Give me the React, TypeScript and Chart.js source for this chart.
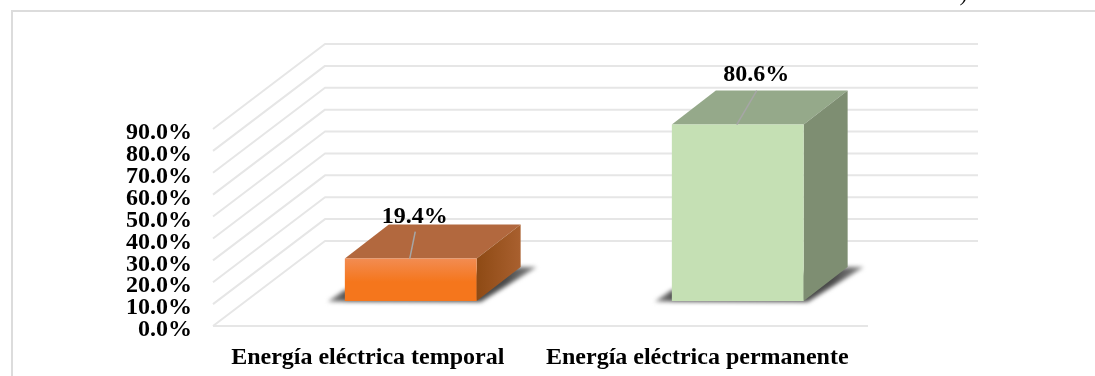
import React, { useEffect, useRef } from "react";
import { Chart, registerables } from "chart.js";

Chart.register(...registerables);

const categories = ["Energía eléctrica temporal", "Energía eléctrica permanente"];
const shares = [19.4, 80.6];
const axisMax = 90;
const axisStep = 10;

// Colours of each box: front gradient, top face, side gradient.
const frontTop = ["#f28c52", "#c5e0b4"];
const frontBottom = ["#f5761c", "#c5e0b4"];
const topFace = ["#b2683e", "#95a98a"];
const sideBack = ["#a9602f", "#7e8e72"];
const sideFront = ["#8e4a14", "#7e8e72"];

// Pseudo-3D projection of the chart box.
const WALL_DX = 112;
const WALL_DY = -85;
const FLOOR_RIGHT = 868;
const WALL_RIGHT = 978;
const FRONT_LEFT = 213;
const BOX_DX = 44;
const BOX_DY = -34;
const BAR_LIFT = -25;
const barShift = [43, 40.5];
const leaderDx = [5.5, 20];
const leaderDy = [-27, -34];
const labelDy = [-35.5, -43.5];

const SERIF = '"Liberation Serif", "Times New Roman", serif';
const TEXT_FONT = `bold 24px ${SERIF}`;

const poly = (ctx: CanvasRenderingContext2D, pts: number[][], fill: any) => {
  ctx.beginPath();
  pts.forEach(([x, y], i) => (i ? ctx.lineTo(x, y) : ctx.moveTo(x, y)));
  ctx.closePath();
  ctx.fillStyle = fill;
  ctx.fill();
};

const projection = {
  id: "projection",
  // Slide the bars from the axis plane into the middle of the floor.
  afterDatasetsUpdate(chart: any) {
    chart.getDatasetMeta(0).data.forEach((bar: any, i: number) => {
      bar.x += barShift[i];
      bar.y += BAR_LIFT;
      bar.base += BAR_LIFT;
    });
  },
  beforeDatasetsDraw(chart: any) {
    const { ctx, scales } = chart;
    const y = scales.y;

    // Frame around the plot.
    ctx.save();
    ctx.strokeStyle = "#dcdcdc";
    ctx.lineWidth = 2;
    ctx.beginPath();
    ctx.moveTo(12, 376);
    ctx.lineTo(12, 11);
    ctx.lineTo(1095, 11);
    ctx.stroke();

    // Wall and floor gridlines, one per axis tick.
    ctx.strokeStyle = "#e6e6e6";
    ctx.lineWidth = 2;
    ctx.lineJoin = "round";
    y.ticks.forEach((t: any) => {
      const py = y.getPixelForValue(t.value);
      ctx.beginPath();
      ctx.moveTo(FRONT_LEFT, py);
      ctx.lineTo(FRONT_LEFT + WALL_DX, py + WALL_DY);
      ctx.lineTo(WALL_RIGHT, py + WALL_DY);
      ctx.stroke();
    });
    const floorY = y.getPixelForValue(0);
    ctx.beginPath();
    ctx.moveTo(FRONT_LEFT, floorY);
    ctx.lineTo(FLOOR_RIGHT, floorY);
    ctx.stroke();

    chart.getDatasetMeta(0).data.forEach((bar: any, i: number) => {
      const half = bar.width / 2;
      const l = bar.x - half;
      const r = bar.x + half;
      const t = bar.y;
      const b = bar.base;

      // Soft cast shadow on the floor, fading away from the box.
      ctx.save();
      ctx.filter = "blur(2px)";
      const fade = ctx.createLinearGradient(l - 17, 0, r + BOX_DX + 16, 0);
      fade.addColorStop(0, "#8a8a8a");
      fade.addColorStop(0.1, "#4a4a4a");
      fade.addColorStop(0.85, "#4a4a4a");
      fade.addColorStop(1, "#8a8a8a");
      poly(
        ctx,
        [
          [l - 17, b + 0.5],
          [l, b - 11],
          [r + BOX_DX, b + BOX_DY],
          [r + BOX_DX + 16, b + BOX_DY],
          [r + 4, b + 1],
        ],
        fade
      );
      ctx.restore();

      // Top and side faces of the box.
      poly(
        ctx,
        [
          [l, t],
          [l + BOX_DX, t + BOX_DY],
          [r + BOX_DX, t + BOX_DY],
          [r, t],
        ],
        topFace[i]
      );
      const side = ctx.createLinearGradient(r, 0, r + BOX_DX, 0);
      side.addColorStop(0, sideFront[i]);
      side.addColorStop(1, sideBack[i]);
      poly(
        ctx,
        [
          [r, t],
          [r + BOX_DX, t + BOX_DY],
          [r + BOX_DX, b + BOX_DY],
          [r, b],
        ],
        i === 0 ? side : sideFront[i]
      );
    });
    ctx.restore();
  },
  afterDatasetsDraw(chart: any) {
    const { ctx } = chart;
    ctx.save();
    chart.getDatasetMeta(0).data.forEach((bar: any, i: number) => {
      // Leader from the box to its value label.
      ctx.strokeStyle = "#a6a6a6";
      ctx.lineWidth = 1.5;
      ctx.beginPath();
      ctx.moveTo(bar.x - 1, bar.y);
      ctx.lineTo(bar.x - 1 + leaderDx[i], bar.y + leaderDy[i]);
      ctx.stroke();

      ctx.fillStyle = "#000000";
      ctx.font = TEXT_FONT;
      ctx.textAlign = "center";
      ctx.textBaseline = "alphabetic";
      ctx.fillText(`${shares[i].toFixed(1)}%`, bar.x + leaderDx[i] - 1.5, bar.y + labelDy[i]);
    });

    // Tail of the caption clipped by the top edge.
    ctx.fillStyle = "#000000";
    ctx.font = `italic 20px ${SERIF}`;
    ctx.textAlign = "left";
    ctx.fillText(")", 961, 1);
    ctx.restore();
  },
};

export default function App() {
  const ref = useRef<HTMLCanvasElement>(null);

  useEffect(() => {
    const chart = new Chart(ref.current!, {
      type: "bar",
      data: {
        labels: categories,
        datasets: [
          {
            data: shares,
            categoryPercentage: 1,
            barPercentage: 0.4,
            borderWidth: 0,
            clip: false,
            backgroundColor: (c: any) => {
              const i = c.dataIndex ?? 0;
              const y = c.chart.scales.y;
              const top = y ? y.getPixelForValue(shares[i]) : NaN;
              const bottom = y ? y.getPixelForValue(0) : NaN;
              if (!Number.isFinite(top) || !Number.isFinite(bottom)) return frontBottom[i];
              const g = c.chart.ctx.createLinearGradient(0, top + BAR_LIFT, 0, bottom + BAR_LIFT);
              g.addColorStop(0, frontTop[i]);
              g.addColorStop(0.55, frontBottom[i]);
              g.addColorStop(1, frontBottom[i]);
              return g;
            },
          },
        ],
      },
      options: {
        responsive: false,
        animation: false,
        layout: { padding: { top: 129, left: 0, right: 233, bottom: 0 } },
        plugins: { legend: { display: false }, tooltip: { enabled: false } },
        scales: {
          x: {
            grid: { display: false, drawTicks: false },
            border: { display: false },
            ticks: {
              color: "#000000",
              font: { family: SERIF, size: 24, weight: "bold" },
              padding: 17,
              maxRotation: 0,
              autoSkip: false,
            },
            afterFit: (s: any) => {
              s.height = 50;
            },
          },
          y: {
            min: 0,
            max: axisMax,
            grid: { display: false, drawTicks: false },
            border: { display: false },
            ticks: {
              stepSize: axisStep,
              color: "#000000",
              font: { family: SERIF, size: 24, weight: "bold" },
              padding: 11,
              labelOffset: 4,
              autoSkip: false,
              callback: (v: any) => `${Number(v).toFixed(1)}%`,
            },
            afterFit: (s: any) => {
              s.width = 203;
            },
          },
        },
      },
      plugins: [projection],
    } as any);
    return () => chart.destroy();
  }, []);

  return (
    <div style={{ position: "absolute", left: 0, top: 0, width: 1095, height: 376, background: "#fff" }}>
      <canvas ref={ref} width={1095} height={376} style={{ display: "block" }} />
    </div>
  );
}
